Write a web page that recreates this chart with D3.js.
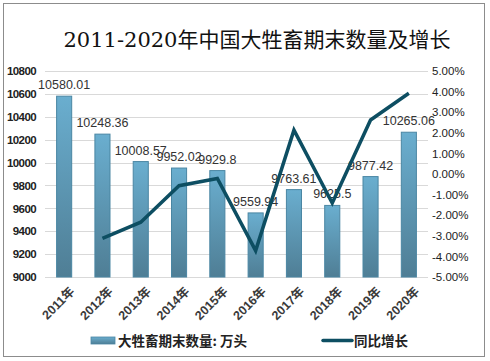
<!DOCTYPE html>
<html><head><meta charset="utf-8">
<script src="https://cdn.jsdelivr.net/npm/d3@7"></script>
<style>body{margin:0;background:#fff;}svg{display:block;}</style>
</head><body>
<svg id="c" width="490" height="361"></svg>
<script>
const years = ["2011年","2012年","2013年","2014年","2015年","2016年","2017年","2018年","2019年","2020年"];
const stock = [10580.01,10248.36,10008.57,9952.02,9929.8,9559.94,9763.61,9625.5,9877.42,10265.06];
const growth = [null,-3.13,-2.34,-0.57,-0.22,-3.72,2.13,-1.41,2.62,3.92];
const leftTicks = [9000,9200,9400,9600,9800,10000,10200,10400,10600,10800];
const rightTicks = [-5,-4,-3,-2,-1,0,1,2,3,4,5];
const title = "2011-2020年中国大牲畜期末数量及增长";
const legendNames = ["大牲畜期末数量: 万头","同比增长"];

const svg = d3.select("#c");
const m = {l:45, r:62, t:71, b:84};
const x = d3.scaleBand().domain(years).range([m.l, 428]).paddingInner(0.58).paddingOuter(0.29);
const y = d3.scaleLinear().domain([9000,10800]).range([277,71]);
const y2 = d3.scaleLinear().domain([-5,5]).range([277,71]);

const defs = svg.append("defs");
const g = defs.append("linearGradient").attr("id","bg").attr("x1",0).attr("y1",0).attr("x2",0).attr("y2",1);
g.append("stop").attr("offset","0%").attr("stop-color","#6aaecf");
g.append("stop").attr("offset","100%").attr("stop-color","#4f7e95");
const gl = defs.append("linearGradient").attr("id","lg").attr("x1",0).attr("y1",0).attr("x2",0).attr("y2",1);
gl.append("stop").attr("offset","0%").attr("stop-color","#6aaecf");
gl.append("stop").attr("offset","100%").attr("stop-color","#4f7e95");

// frame
svg.append("rect").attr("x",3.5).attr("y",3.5).attr("width",481).attr("height",353)
  .attr("fill","#fff").attr("stroke","#8c8c8c").attr("stroke-width",1);

// title
svg.append("text").attr("x",257).attr("y",47).attr("text-anchor","middle")
  .attr("font-family","'DejaVu Serif','Noto Sans CJK SC',serif").attr("font-size",21)
  .attr("fill","#111").text(title);

// grid
svg.append("g").selectAll("line").data(leftTicks).join("line")
  .attr("x1",m.l).attr("x2",428).attr("y1",d=>Math.round(y(d))+0.5).attr("y2",d=>Math.round(y(d))+0.5)
  .attr("stroke","#d9d9d9").attr("stroke-width",1);

// left axis
const la = svg.append("g").attr("transform",`translate(${m.l},0)`)
  .call(d3.axisLeft(y).tickValues(leftTicks).tickSize(0).tickPadding(9).tickFormat(d3.format("d")));
la.select(".domain").remove();
la.selectAll("text").attr("font-family","Liberation Sans, Arial, sans-serif").attr("font-size",11.5)
  .attr("font-weight","bold").attr("fill","#222").attr("letter-spacing","-0.6");

// right axis
const ra = svg.append("g").attr("transform",`translate(428,0)`)
  .call(d3.axisRight(y2).tickValues(rightTicks).tickSize(0).tickPadding(4).tickFormat(d=>d.toFixed(2)+"%"));
ra.select(".domain").remove();
ra.selectAll("text").attr("font-family","Liberation Sans, Arial, sans-serif").attr("font-size",11.5)
  .attr("fill","#222");

// bars
svg.append("g").selectAll("rect").data(stock).join("rect")
  .attr("x",(d,i)=>x(years[i])+0.5).attr("width",x.bandwidth()-1)
  .attr("y",d=>y(d)).attr("height",d=>y(9000)-y(d))
  .attr("fill","url(#bg)").attr("stroke","#4a86a3").attr("stroke-width",1);

// bar labels
svg.append("g").selectAll("text").data(stock).join("text")
  .attr("x",(d,i)=>x(years[i])+x.bandwidth()/2).attr("y",d=>y(d)-7)
  .attr("text-anchor","middle").attr("font-family","Liberation Sans, Arial, sans-serif")
  .attr("font-size",12.5).attr("fill","#333").text(d=>String(d));

// line
const pts = growth.map((v,i)=>({v,i})).filter(d=>d.v!==null);
svg.append("path").datum(pts)
  .attr("d",d3.line().x(d=>x(years[d.i])+x.bandwidth()/2).y(d=>y2(d.v)))
  .attr("fill","none").attr("stroke","#0d4e62").attr("stroke-width",3.5).attr("stroke-linejoin","miter");

// x labels
svg.append("g").selectAll("text").data(years).join("text")
  .attr("transform",d=>`translate(${x(d)+x.bandwidth()/2+5},${286}) rotate(-45)`)
  .attr("text-anchor","end").attr("dy","0.7em")
  .attr("font-family","Liberation Sans, 'Noto Sans CJK SC', sans-serif").attr("font-size",12.5)
  .attr("font-weight","bold").attr("fill","#3a3a3a").text(d=>d);

// legend
svg.append("rect").attr("x",91).attr("y",337).attr("width",24).attr("height",7)
  .attr("fill","url(#lg)").attr("stroke","#4a86a3").attr("stroke-width",0.8);
svg.append("text").attr("x",118).attr("y",345.5).attr("font-family","'Noto Sans CJK SC',sans-serif")
  .attr("font-size",13.5).attr("font-weight","bold").attr("fill","#222").text(legendNames[0]);
svg.append("line").attr("x1",323).attr("x2",352).attr("y1",340.5).attr("y2",340.5)
  .attr("stroke","#0d4e62").attr("stroke-width",3.5).attr("stroke-linecap","round");
svg.append("text").attr("x",354).attr("y",345.5).attr("font-family","'Noto Sans CJK SC',sans-serif")
  .attr("font-size",13.5).attr("font-weight","bold").attr("fill","#222").text(legendNames[1]);
</script>
</body></html>
